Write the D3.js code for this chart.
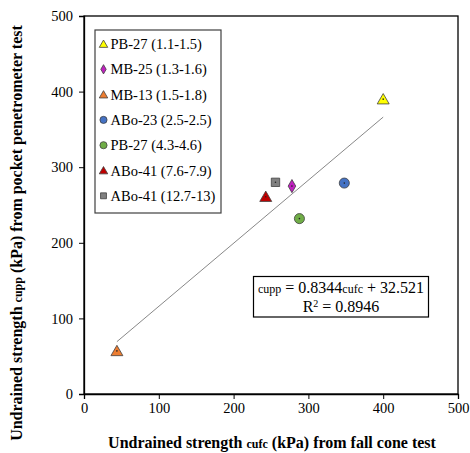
<!DOCTYPE html>
<html><head><meta charset="utf-8">
<script src="https://cdn.jsdelivr.net/npm/d3@7"></script>
<style>body{margin:0;background:#fff}svg{display:block}</style>
</head><body><svg id="c" width="470" height="453"></svg>
<script>
const labels = ["PB-27 (1.1-1.5)","MB-25 (1.3-1.6)","MB-13 (1.5-1.8)","ABo-23 (2.5-2.5)","PB-27 (4.3-4.6)","ABo-41 (7.6-7.9)","ABo-41 (12.7-13)"];
const xVals = [400, 278, 44, 348, 288, 243, 256];
const yVals = [390, 275, 57, 279, 232, 261, 280];
const shapes = ["triangle","diamond","triangle","circle","circle","triangle","square"];
const colors = ["#ffff00","#c020c0","#ed7d31","#4472c4","#70ad47","#c00000","#808080"];
const ticks = [0,100,200,300,400,500];
const slope = 0.8344, intercept = 32.521, r2 = 0.8946;
const trendX = [44, 400];

const FF = "'Liberation Serif', 'Times New Roman', Times, serif";
const svg = d3.select("#c").attr("font-family", FF);
const m = {l:84, r:458, t:16, b:394};
const x = d3.scaleLinear().domain([0,500]).range([m.l, m.r]);
const y = d3.scaleLinear().domain([0,500]).range([m.b, m.t]);

svg.append("rect").attr("x",m.l).attr("y",m.t).attr("width",m.r-m.l).attr("height",m.b-m.t)
  .attr("fill","none").attr("stroke","#000").attr("stroke-width",1.3);

const xa = svg.append("g").attr("transform",`translate(0,${m.b})`)
  .call(d3.axisBottom(x).tickValues(ticks).tickSize(5).tickPadding(4));
const ya = svg.append("g").attr("transform",`translate(${m.l},0)`)
  .call(d3.axisLeft(y).tickValues(ticks).tickSize(5).tickPadding(6));
[xa,ya].forEach(a=>{
  a.attr("font-family", FF);
  a.select(".domain").attr("stroke","#000").attr("stroke-width",1.3);
  a.selectAll(".tick line").attr("stroke","#000");
  a.selectAll("text").attr("font-size",14.5).attr("fill","#000");
});

svg.append("line").attr("x1",x(trendX[0])).attr("y1",y(slope*trendX[0]+intercept))
  .attr("x2",x(trendX[1])).attr("y2",y(slope*trendX[1]+intercept))
  .attr("stroke","#888").attr("stroke-width",1);

const symMap = {triangle:d3.symbolTriangle, diamond:d3.symbolDiamond, circle:d3.symbolCircle, square:d3.symbolSquare};
const sizeMap = {triangle:62, diamond:50, circle:80, square:70};
function marker(g, i, cx, cy, scale){
  const sh = shapes[i];
  const sym = d3.symbol().type(symMap[sh]).size(sizeMap[sh]*scale);
  const yoff = sh==="triangle" ? 1.3*Math.sqrt(scale) : 0;
  g.append("path").attr("d",sym()).attr("transform",`translate(${cx},${cy+yoff})`)
    .attr("fill",colors[i]).attr("stroke","#404040").attr("stroke-width",0.8);
}
const pts = svg.append("g");
xVals.forEach((v,i)=>{
  marker(pts,i,x(v),y(yVals[i]),1);
  pts.append("circle").attr("cx",x(v)).attr("cy",y(yVals[i])).attr("r",0.8).attr("fill","#222");
});

const lg = svg.append("g");
lg.append("rect").attr("x",95).attr("y",30).attr("width",126).attr("height",183)
  .attr("fill","#fff").attr("stroke","#404040").attr("stroke-width",1.2);
labels.forEach((l,i)=>{
  const cy = 44 + i*25.3;
  marker(lg,i,103.5,cy,0.5);
  lg.append("text").attr("x",110.5).attr("y",cy+5).attr("font-size",14.5).attr("fill","#000").text(l);
});

const eq = svg.append("g");
eq.append("rect").attr("x",253.5).attr("y",276.5).attr("width",175).attr("height",40.5)
  .attr("fill","#fff").attr("stroke","#000").attr("stroke-width",1.2);
const t1 = eq.append("text").attr("x",341).attr("y",293).attr("text-anchor","middle").attr("font-size",16).attr("fill","#000");
t1.append("tspan").attr("font-size",12).text("cupp");
t1.append("tspan").text(` = ${slope}`);
t1.append("tspan").attr("font-size",12).text("cufc");
t1.append("tspan").text(` + ${intercept}`);
const t2 = eq.append("text").attr("x",341).attr("y",311.5).attr("text-anchor","middle").attr("font-size",16).attr("fill","#000");
t2.append("tspan").text("R");
t2.append("tspan").attr("font-size",10).attr("dy",-5).text("2");
t2.append("tspan").attr("dy",5).text(` = ${r2}`);

const xt = svg.append("text").attr("x",272).attr("y",448).attr("text-anchor","middle")
  .attr("font-size",16).attr("font-weight","bold").attr("fill","#000");
xt.append("tspan").text("Undrained strength ");
xt.append("tspan").attr("font-size",12).text("cufc");
xt.append("tspan").text(" (kPa) from fall cone test");
const yt = svg.append("text").attr("transform","translate(22,233) rotate(-90)").attr("text-anchor","middle")
  .attr("font-size",16).attr("font-weight","bold").attr("fill","#000");
yt.append("tspan").text("Undrained strength ");
yt.append("tspan").attr("font-size",12).text("cupp");
yt.append("tspan").text(" (kPa) from pocket penetrometer test");
</script></body></html>
